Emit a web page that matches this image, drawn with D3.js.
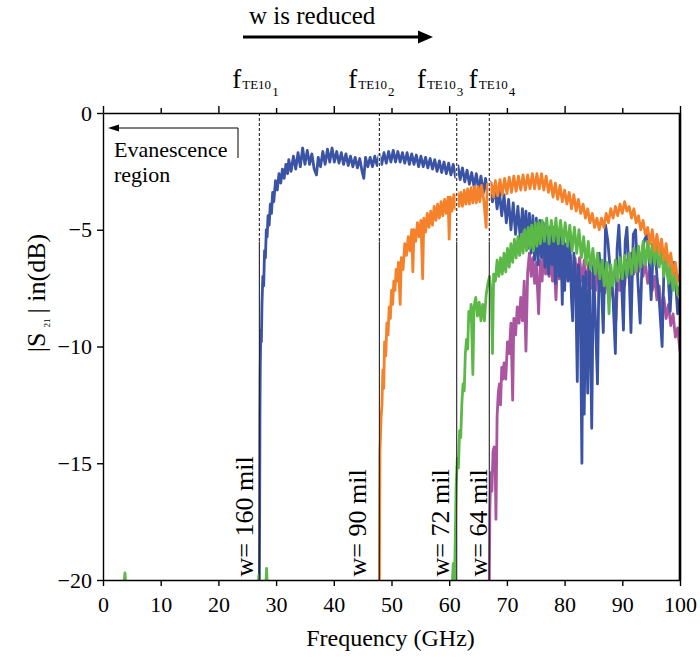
<!DOCTYPE html>
<html>
<head>
<meta charset="utf-8">
<script src="https://cdn.jsdelivr.net/npm/d3@7"></script>
<style>
  html, body { margin: 0; padding: 0; background: #fff; }
  svg, svg text { font-family: "Liberation Serif", "Times New Roman", Tinos, "DejaVu Serif", "Noto Serif", serif; }
</style>
</head>
<body>
<svg id="chart" width="700" height="664"></svg>
<script>
// Frequency ticks (GHz) and |S21| ticks (dB)
const xTicks = [0, 10, 20, 30, 40, 50, 60, 70, 80, 90, 100];
const yTicks = [0, -5, -10, -15, -20];

// TE10 cut-off frequency for each strip width (GHz)
const cutoffs = [27.1, 47.9, 61.3, 66.95];
const cutoffIdx = ["1", "2", "3", "4"];
const widthLabels = ["w= 160 mil", "w= 90 mil", "w= 72 mil", "w= 64 mil"];
// where each cut-off label / width label sits (GHz)
const cutoffLabelAt = [22.4, 42.5, 54.4, 63.4];
const widthLabelAt = [25.95, 45.6, 60.0, 66.6];
// level (dB) below which the cut-off markers turn solid
const markerSplit = -5.5;

// |S21| (dB) versus frequency (GHz), w = 160 mil
const s21w160 = [
  [27.1,-20],[27.15,-17],[27.2,-13],[27.25,-11],[27.35,-9.3],[27.45,-9.8],[27.55,-8.2],[27.7,-7.0],[27.85,-7.4],
  [28.0,-5.9],[28.15,-6.2],[28.3,-5.0],[28.45,-5.3],[28.6,-4.4],[28.8,-4.8],[29.0,-3.9],[29.2,-4.3],[29.4,-3.4],
  [29.6,-3.8],[29.9,-2.9],[30.2,-3.3],[30.5,-2.6],[30.8,-3.0],[31.1,-2.4],[31.4,-2.8],[31.7,-2.2],[32.0,-2.6],
  [32.2,-2.0],[32.6,-2.5],[33.0,-1.85],[33.4,-2.4],[33.8,-1.7],[34.2,-2.3],[34.6,-1.5],[35.0,-2.2],[35.4,-1.6],
  [35.8,-2.2],[36.2,-1.75],[36.6,-2.4],[37.0,-2.65],[37.3,-1.9],[37.7,-2.3],[38.1,-1.65],[38.5,-2.2],[38.9,-1.55],
  [39.3,-2.1],[39.7,-1.5],[40.1,-2.1],[40.5,-1.65],[40.9,-2.15],[41.3,-1.7],[41.7,-2.2],[42.1,-1.75],[42.5,-2.25],
  [42.9,-1.85],[43.3,-2.3],[43.7,-1.9],[44.1,-2.35],[44.5,-1.95],[44.9,-2.5],[45.2,-2.8],[45.5,-1.9],[45.9,-2.3],
  [46.3,-1.9],[46.7,-2.3],[47.1,-1.85],[47.5,-2.25],[47.9,-1.75],[48.3,-2.2],[48.7,-1.7],[49.1,-2.15],[49.5,-1.65],
  [49.9,-2.1],[50.3,-1.6],[50.7,-2.1],[51.1,-1.65],[51.5,-2.1],[51.9,-1.7],[52.3,-2.15],[52.7,-1.7],[53.1,-2.2],
  [53.5,-1.75],[53.9,-2.2],[54.3,-1.8],[54.7,-2.3],[55.1,-1.85],[55.5,-2.3],[55.9,-1.9],[56.3,-2.35],[56.7,-1.95],
  [57.1,-2.4],[57.5,-2.0],[57.9,-2.5],[58.3,-2.05],[58.7,-2.55],[59.1,-2.1],[59.5,-2.6],[59.9,-2.15],[60.3,-2.65],
  [60.7,-2.2],[61.1,-2.75],[61.5,-2.25],[61.9,-2.85],[62.3,-2.35],[62.7,-2.95],[63.1,-2.45],[63.5,-3.05],[63.9,-2.55],
  [64.3,-3.15],[64.7,-2.6],[65.1,-3.3],[65.5,-2.7],[65.9,-3.45],[66.3,-2.8],[66.7,-3.6],[67.1,-2.95],[67.5,-3.8],
  [67.9,-3.15],[68.3,-4.1],[68.7,-3.35],[69.1,-4.4],[69.5,-3.5],[69.9,-4.7],[70.3,-3.7],[70.7,-5.0],[71.1,-3.85],
  [71.5,-5.2],[71.9,-4.0],[72.3,-5.35],[72.7,-4.1],[73.0,-5.5],[73.3,-4.2],[73.6,-5.8],[73.9,-4.3],[74.2,-6.0],
  [74.5,-4.4],[74.8,-6.3],[75.1,-4.5],[75.4,-6.5],[75.7,-4.6],[76.0,-6.2],[76.3,-4.7],[76.6,-6.6],[76.9,-4.8],
  [77.2,-6.9],[77.5,-4.9],[77.8,-6.5],[78.1,-4.9],[78.4,-7.3],[78.7,-5.0],[79.0,-7.0],[79.3,-5.1],[79.6,-8.2],
  [79.8,-5.3],[80.0,-7.6],[80.3,-5.6],[80.6,-7.2],[80.9,-5.5],[81.2,-8.0],[81.4,-8.9],[81.6,-6.0],[81.9,-7.0],
  [82.2,-11.5],[82.4,-6.5],[82.7,-7.5],[83.0,-15.0],[83.2,-7.0],[83.4,-12.9],[83.7,-6.8],[84.0,-12.0],[84.3,-6.5],
  [84.7,-13.5],[85.0,-6.6],[85.3,-8.5],[85.7,-11.6],[86.0,-6.0],[86.4,-7.5],[86.7,-9.4],[87.1,-4.8],[87.5,-5.5],
  [88.0,-7.0],[88.4,-8.0],[88.8,-10.3],[89.1,-5.8],[89.4,-4.8],[89.8,-6.8],[90.2,-9.3],[90.5,-5.5],[90.8,-4.9],
  [91.2,-7.0],[91.5,-9.4],[91.9,-5.2],[92.3,-5.0],[92.7,-7.2],[93.1,-9.0],[93.5,-5.8],[93.9,-5.4],[94.3,-5.2],
  [94.7,-6.5],[95.0,-8.0],[95.3,-6.2],[95.7,-5.8],[96.0,-7.0],[96.4,-8.0],[96.9,-10.0],[97.2,-6.8],[97.6,-6.2],
  [98.0,-7.2],[98.3,-8.5],[98.6,-6.9],[99.0,-6.4],[99.3,-7.5],[99.6,-8.6],[100,-7.9]
];

// w = 90 mil
const s21w90 = [
  [47.9,-20],[47.95,-17],[48.0,-14.5],[48.1,-13.8],[48.2,-13.0],[48.35,-12.5],[48.5,-11.0],[48.65,-11.8],[48.8,-9.8],
  [49.0,-10.4],[49.2,-9.0],[49.4,-9.5],[49.6,-8.3],[49.8,-8.8],[50.0,-7.6],[50.2,-8.2],[50.4,-7.2],[50.6,-7.6],
  [50.8,-6.7],[51.0,-7.2],[51.2,-6.4],[51.5,-8.2],[51.7,-6.2],[52.0,-6.7],[52.3,-5.6],[52.6,-6.1],[52.9,-5.3],
  [53.2,-5.9],[53.5,-5.0],[53.7,-6.8],[53.9,-5.0],[54.2,-5.5],[54.5,-4.7],[54.8,-5.3],[55.1,-4.6],[55.4,-7.1],
  [55.6,-4.5],[55.9,-5.1],[56.2,-4.3],[56.5,-4.9],[56.8,-4.2],[57.1,-4.8],[57.4,-4.0],[57.7,-4.6],[58.0,-3.9],
  [58.3,-4.5],[58.6,-3.8],[58.9,-4.4],[59.2,-3.7],[59.5,-4.3],[59.8,-3.6],[60.0,-5.4],[60.2,-3.6],[60.5,-4.2],
  [60.8,-3.5],[61.1,-4.1],[61.4,-3.4],[61.7,-4.0],[62.0,-3.4],[62.3,-4.0],[62.6,-3.3],[62.9,-3.9],[63.2,-3.25],
  [63.5,-3.9],[63.8,-3.2],[64.1,-3.85],[64.4,-3.15],[64.7,-3.85],[65.0,-3.15],[65.3,-3.8],[65.6,-3.1],[66.0,-3.75],
  [66.4,-4.9],[66.6,-3.05],[67.0,-3.7],[67.3,-3.0],[67.7,-3.6],[68.0,-2.9],[68.4,-3.55],[68.8,-2.85],[69.2,-3.5],
  [69.6,-2.8],[70.0,-3.45],[70.4,-2.75],[70.8,-3.4],[71.2,-2.7],[71.6,-3.35],[72.0,-2.7],[72.4,-3.3],[72.8,-2.65],
  [73.2,-3.3],[73.6,-2.65],[74.0,-3.25],[74.4,-2.6],[74.8,-3.25],[75.2,-2.6],[75.6,-3.25],[76.0,-2.6],[76.4,-3.3],
  [76.8,-2.7],[77.2,-3.4],[77.6,-2.9],[78.0,-3.6],[78.4,-3.0],[78.8,-3.7],[79.2,-3.1],[79.6,-3.8],[80.0,-3.3],
  [80.4,-3.9],[80.8,-3.4],[81.2,-4.1],[81.6,-3.5],[82.0,-4.2],[82.4,-3.7],[82.8,-4.3],[83.2,-3.9],[83.6,-4.5],
  [84.0,-4.1],[84.4,-4.7],[84.8,-4.3],[85.2,-4.9],[85.6,-4.5],[86.0,-5.0],[86.4,-4.5],[86.8,-4.9],[87.2,-4.3],
  [87.6,-4.7],[88.0,-4.1],[88.4,-4.5],[88.8,-4.0],[89.2,-4.4],[89.6,-3.9],[90.0,-4.3],[90.4,-3.8],[90.8,-4.2],
  [91.2,-4.0],[91.6,-4.5],[92.0,-4.1],[92.4,-4.7],[92.8,-4.4],[93.2,-5.0],[93.6,-4.6],[94.0,-5.2],[94.4,-4.9],
  [94.8,-5.6],[95.2,-5.0],[95.6,-5.9],[96.0,-5.2],[96.4,-6.0],[96.8,-5.4],[97.2,-6.3],[97.6,-5.6],[98.0,-6.5],
  [98.4,-6.0],[98.8,-6.9],[99.2,-6.4],[99.6,-7.2],[100,-6.9]
];

// w = 72 mil (the few spikes below the cut-off rise from under -20 dB)
const s21w72 = [
  [3.4,-21],[3.8,-19.7],[4.2,-21],[26.8,-21],[27.0,-19.8],[27.2,-21],[28.1,-21],[28.35,-19.5],[28.6,-21],
  [60.4,-21],[60.7,-19.3],[60.9,-20.4],[61.05,-18.3],[61.2,-16.0],[61.4,-14.8],[61.6,-15.2],[61.8,-13.6],[62.0,-13.9],
  [62.2,-12.4],[62.4,-11.6],[62.6,-11.9],[62.8,-10.3],[63.0,-9.7],[63.2,-10.1],[63.4,-8.5],[63.6,-8.9],[63.8,-8.2],
  [64.1,-11.2],[64.3,-8.3],[64.6,-7.9],[64.9,-8.7],[65.2,-8.1],[65.5,-8.9],[65.8,-8.2],[66.1,-8.9],[66.4,-7.8],
  [66.7,-7.3],[67.0,-7.0],[67.3,-7.8],[67.5,-10.3],[67.7,-6.9],[68.0,-7.2],[68.3,-6.3],[68.6,-7.0],[68.9,-6.2],
  [69.2,-6.9],[69.5,-6.0],[69.8,-6.8],[70.1,-5.8],[70.4,-6.6],[70.7,-5.6],[71.0,-6.4],[71.3,-5.4],[71.6,-6.2],
  [71.9,-5.3],[72.2,-6.1],[72.5,-5.2],[72.8,-6.0],[73.1,-5.0],[73.4,-5.9],[73.7,-4.9],[74.0,-5.8],[74.3,-4.8],
  [74.6,-5.9],[74.9,-4.7],[75.2,-5.7],[75.5,-4.7],[75.8,-5.6],[76.1,-4.6],[76.5,-5.5],[76.9,-4.5],[77.3,-5.6],
  [77.7,-4.6],[78.1,-5.5],[78.5,-4.5],[78.9,-5.6],[79.3,-4.6],[79.7,-5.6],[80.1,-4.7],[80.5,-5.7],[80.9,-4.8],
  [81.3,-5.9],[81.7,-4.9],[82.1,-6.0],[82.5,-5.0],[82.9,-6.2],[83.3,-5.3],[83.7,-6.5],[84.1,-5.5],[84.5,-6.7],
  [84.9,-5.8],[85.3,-6.9],[85.7,-6.0],[86.1,-7.1],[86.5,-6.3],[86.9,-7.4],[87.3,-6.4],[87.7,-8.6],[88.0,-6.5],
  [88.4,-7.4],[88.8,-6.3],[89.2,-7.2],[89.6,-6.2],[90.0,-7.1],[90.4,-6.1],[90.8,-7.0],[91.2,-6.0],[91.6,-6.9],
  [92.0,-5.8],[92.4,-6.8],[92.8,-5.7],[93.2,-6.6],[93.6,-5.5],[94.0,-6.5],[94.4,-5.5],[94.8,-6.4],[95.2,-5.6],
  [95.6,-6.5],[96.0,-5.7],[96.4,-6.6],[96.8,-5.9],[97.2,-7.0],[97.6,-6.2],[98.0,-7.3],[98.4,-6.5],[98.8,-7.6],
  [99.2,-6.9],[99.6,-7.8],[100,-7.4]
];

// w = 64 mil
const s21w64 = [
  [66.95,-20],[67.05,-17],[67.2,-15.4],[67.4,-16.2],[67.6,-14.5],[67.8,-14.3],[68.0,-15.5],[68.1,-17.4],[68.3,-13.0],
  [68.5,-12.0],[68.7,-11.6],[68.9,-12.5],[69.1,-10.9],[69.3,-11.4],[69.5,-10.7],[69.8,-11.4],[70.1,-9.8],[70.4,-10.3],
  [70.7,-9.0],[71.0,-12.3],[71.2,-8.8],[71.5,-9.5],[71.8,-8.3],[72.1,-9.0],[72.4,-7.9],[72.7,-8.9],[73.0,-7.2],
  [73.3,-10.2],[73.6,-6.8],[73.9,-6.0],[74.2,-7.0],[74.5,-6.2],[74.8,-7.3],[75.1,-6.4],[75.5,-8.6],[75.8,-6.3],
  [76.1,-7.2],[76.4,-5.9],[76.7,-6.9],[77.0,-6.0],[77.3,-7.0],[77.6,-6.2],[77.9,-7.2],[78.2,-6.3],[78.5,-8.0],
  [78.8,-6.3],[79.1,-7.1],[79.4,-6.1],[79.8,-7.0],[80.2,-6.0],[80.6,-7.0],[81.0,-6.1],[81.4,-7.1],[81.8,-6.2],
  [82.2,-7.1],[82.6,-6.2],[83.0,-7.2],[83.4,-6.3],[83.8,-7.4],[84.2,-6.4],[84.6,-7.5],[85.0,-6.5],[85.4,-7.6],
  [85.8,-6.6],[86.2,-7.6],[86.6,-6.7],[87.0,-7.7],[87.4,-6.8],[87.8,-7.9],[88.2,-7.0],[88.6,-8.3],[88.9,-8.9],
  [89.2,-7.0],[89.6,-7.6],[90.0,-6.6],[90.4,-7.4],[90.8,-6.3],[91.2,-7.1],[91.6,-6.0],[92.0,-6.9],[92.4,-5.9],
  [92.8,-6.8],[93.2,-6.1],[93.6,-7.0],[94.0,-6.4],[94.4,-7.3],[94.8,-6.7],[95.2,-7.6],[95.6,-7.0],[96.0,-8.0],
  [96.4,-7.4],[96.8,-8.5],[97.2,-7.9],[97.6,-8.8],[98.0,-8.2],[98.4,-9.1],[98.8,-8.6],[99.2,-9.6],[99.6,-9.2],
  [100,-10.2]
];

const seriesColors = { w160: "#3a53a4", w90: "#f5822a", w72: "#5cb947", w64: "#a9559f" };
const serif = "'Liberation Serif', 'Times New Roman', Tinos, 'DejaVu Serif', 'Noto Serif', serif";

const svg = d3.select("#chart").attr("font-family", serif);
const plot = { left: 103, right: 680, top: 113, bottom: 580 };

const x = d3.scaleLinear().domain([0, 100]).range([plot.left, plot.right]);
const y = d3.scaleLinear().domain([-20, 0]).range([plot.bottom, plot.top]);

svg.append("defs").append("clipPath").attr("id", "plot-clip")
  .append("rect")
  .attr("x", plot.left).attr("y", plot.top)
  .attr("width", plot.right - plot.left).attr("height", plot.bottom - plot.top);

// curves
const line = d3.line().x(d => x(d[0])).y(d => y(d[1]));
const curves = svg.append("g").attr("clip-path", "url(#plot-clip)");
[["w64", s21w64], ["w160", s21w160], ["w72", s21w72], ["w90", s21w90]].forEach(([key, data]) => {
  curves.append("path")
    .datum(data)
    .attr("d", line)
    .attr("fill", "none")
    .attr("stroke", seriesColors[key])
    .attr("stroke-width", 2.8)
    .attr("stroke-linejoin", "round");
});

// cut-off markers: dashed near the top, solid below
const markers = svg.append("g");
cutoffs.forEach(f => {
  markers.append("line")
    .attr("x1", x(f)).attr("x2", x(f))
    .attr("y1", y(0)).attr("y2", y(markerSplit))
    .attr("stroke", "#fff").attr("stroke-width", 2.2);
  markers.append("line")
    .attr("x1", x(f)).attr("x2", x(f))
    .attr("y1", y(0)).attr("y2", y(markerSplit))
    .attr("stroke", "#222").attr("stroke-width", 1.1)
    .attr("stroke-dasharray", "3,2");
  markers.append("line")
    .attr("x1", x(f)).attr("x2", x(f))
    .attr("y1", y(markerSplit)).attr("y2", y(-20))
    .attr("stroke", "#222").attr("stroke-width", 1.1);
});

// axes
const axisFont = 22;
const bottomAxis = svg.append("g")
  .attr("transform", `translate(0,${plot.bottom})`)
  .call(d3.axisBottom(x).tickValues(xTicks).tickSizeInner(6).tickSizeOuter(0).tickFormat(d3.format("d")));
bottomAxis.selectAll("text").attr("y", 32).attr("dy", 0);

const topAxis = svg.append("g")
  .attr("transform", `translate(0,${plot.top})`)
  .call(d3.axisTop(x).tickValues(xTicks).tickSizeOuter(0).tickFormat(""));
topAxis.selectAll(".tick line").attr("y2", d => (d % 20 === 0 ? -7 : -5));

const leftAxis = svg.append("g")
  .attr("transform", `translate(${plot.left},0)`)
  .call(d3.axisLeft(y).tickValues(yTicks).tickSizeInner(6).tickSizeOuter(0).tickPadding(5).tickFormat(d3.format("d")));

[bottomAxis, topAxis, leftAxis].forEach(g => {
  g.attr("font-family", serif).attr("font-size", axisFont);
  g.selectAll("text").attr("fill", "#000");
  g.select(".domain").attr("stroke", "#000").attr("stroke-width", 1.4);
  g.selectAll(".tick line").attr("stroke", "#000").attr("stroke-width", 1.4);
});

// right frame edge
svg.append("line")
  .attr("x1", plot.right).attr("x2", plot.right)
  .attr("y1", plot.top).attr("y2", plot.bottom)
  .attr("stroke", "#000").attr("stroke-width", 2.6);

// axis titles
svg.append("text")
  .attr("x", (plot.left + plot.right) / 2 - 1).attr("y", 646)
  .attr("text-anchor", "middle").attr("font-size", 24)
  .text("Frequency (GHz)");

const yTitle = svg.append("text")
  .attr("transform", "translate(45,293) rotate(-90)")
  .attr("text-anchor", "middle").attr("font-size", 26);
yTitle.append("tspan").text("|S");
yTitle.append("tspan").attr("dx", 5).attr("dy", 5).attr("font-size", 9).text("21");
yTitle.append("tspan").attr("dx", 5).attr("dy", -5).text("| in(dB)");

// cut-off frequency labels above the frame
cutoffLabelAt.forEach((f, i) => {
  const t = svg.append("text").attr("x", x(f)).attr("y", 88).attr("font-size", 27);
  t.append("tspan").text("f");
  t.append("tspan").attr("dx", 1).attr("dy", 1).attr("font-size", 13).text("TE10");
  t.append("tspan").attr("dx", 1).attr("dy", 7).attr("font-size", 13).text(cutoffIdx[i]);
});

// strip-width labels, written upward next to each cut-off
widthLabelAt.forEach((f, i) => {
  svg.append("text")
    .attr("transform", `translate(${x(f)},${y(-19.85)}) rotate(-90)`)
    .attr("font-size", 26)
    .text(widthLabels[i]);
});

// "w is reduced" arrow
svg.append("text").attr("x", 249).attr("y", 24).attr("font-size", 25).text("w is reduced");
svg.append("line").attr("x1", 243).attr("x2", 420).attr("y1", 37).attr("y2", 37)
  .attr("stroke", "#000").attr("stroke-width", 3);
svg.append("path").attr("d", "M418,30.5 L433,37 L418,43.5 Z").attr("fill", "#000");

// evanescence region annotation
svg.append("line").attr("x1", 116).attr("x2", 238).attr("y1", 128).attr("y2", 128)
  .attr("stroke", "#000").attr("stroke-width", 1);
svg.append("line").attr("x1", 238).attr("x2", 238).attr("y1", 128).attr("y2", 158)
  .attr("stroke", "#000").attr("stroke-width", 1);
svg.append("path").attr("d", "M108,128 L119,124.5 L119,131.5 Z").attr("fill", "#000");
svg.append("text").attr("x", 114).attr("y", 157).attr("font-size", 22).text("Evanescence");
svg.append("text").attr("x", 114).attr("y", 182).attr("font-size", 22).text("region");
</script>
</body>
</html>
